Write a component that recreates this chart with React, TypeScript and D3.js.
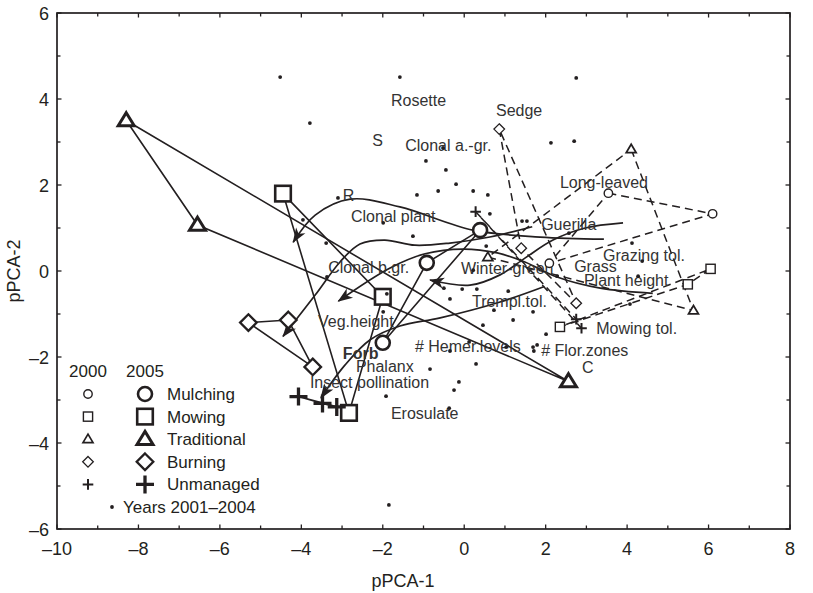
import React from 'react'
import * as d3 from 'd3'

// plot scores in the first year (2000), three plots per treatment
const mulching2000 = [[3.54, 1.81], [6.1, 1.33], [2.09, 0.18]]
const mowing2000 = [[6.05, 0.05], [5.49, -0.31], [2.35, -1.3]]
const traditional2000 = [[4.1, 2.83], [5.63, -0.92], [0.58, 0.32]]
const burning2000 = [[0.86, 3.3], [1.4, 0.53], [2.75, -0.75]]
const unmanaged2000 = [[0.28, 1.38], [2.75, -1.12], [2.88, -1.33]]

// plot scores in the last year (2005)
const mulching2005 = [[0.39, 0.95], [-0.92, 0.19], [-2.0, -1.67]]
const mowing2005 = [[-4.45, 1.8], [-2.0, -0.6], [-2.83, -3.3]]
const traditional2005 = [[-8.3, 3.5], [-6.55, 1.07], [2.56, -2.57]]
const burning2005 = [[-5.3, -1.2], [-4.32, -1.14], [-3.72, -2.23]]
const unmanaged2005 = [[-4.07, -2.92], [-3.48, -3.08], [-3.13, -3.16]]

// smoothed trajectory of the treatment centroid, 2000 -> 2005
const mulchingPath = [[3.9, 1.12], [2.97, 1.0], [2.18, 0.72], [1.49, 0.3], [0.88, -0.09], [0.14, -0.33], [-0.84, -0.21]]
const mowingPath = [[4.63, -0.52], [3.34, -0.4], [2.28, -0.14], [1.49, 0.21], [0.81, 0.42], [-0.03, 0.51], [-0.96, 0.4], [-1.82, 0.07], [-3.09, -0.7]]
const traditionalPath = [[3.43, 0.74], [1.86, 0.79], [0.22, 0.95], [-1.58, 1.49], [-2.8, 1.67], [-3.66, 1.3], [-4.2, 0.67]]
const burningPath = [[1.67, 1.03], [0.63, 0.79], [-0.35, 0.65], [-1.21, 0.6], [-1.95, 0.72], [-2.56, 0.63], [-3.05, 0.21], [-3.66, -0.56], [-4.45, -1.52]]
const unmanagedPath = [[1.97, -0.36], [0.88, -0.72], [-0.59, -1.09], [-1.58, -1.28], [-2.31, -1.6], [-2.93, -2.19], [-3.52, -2.95]]

// plots in the years 2001-2004
const years0104 = [
  [-4.52, 4.51], [-1.58, 4.51], [2.75, 4.49], [-3.79, 3.44], [2.13, 2.98], [2.7, 3.02],
  [-0.52, 2.86], [-0.94, 2.56], [-0.45, 2.35], [-0.2, 2.02], [-0.64, 1.86], [-1.16, 1.77],
  [0.22, 1.86], [0.58, 1.77], [-3.1, 1.7], [0.63, 1.33], [1.42, 1.16], [1.54, 1.16],
  [-3.96, 1.19], [-1.99, 1.12], [-3.39, 0.65], [-1.26, 0.81], [0.54, 0.58], [2.57, 0.88],
  [4.12, 0.65], [4.37, 0.23], [4.27, -0.12], [2.28, -0.12], [0.22, 0.02], [-3.37, -0.14],
  [-0.5, -0.4], [-0.05, -0.42], [0.31, -0.42], [1.08, -0.47], [-0.35, -0.65], [-1.9, -0.53],
  [-1.99, -0.95], [0.73, -0.91], [1.2, -1.14], [1.69, -0.95], [0.46, -1.26], [2.01, -1.47],
  [4.07, -0.77], [0.12, -1.65], [-0.35, -1.86], [1.03, -1.77], [1.69, -1.77], [1.79, -1.72],
  [1.71, -1.86], [-0.84, -2.28], [0.29, -2.16], [-0.13, -2.58], [-0.25, -2.77], [-1.92, -2.91],
  [-0.37, -3.19], [-1.85, -5.44]
]

// species traits (label placed at its score)
const traitNames = ['Rosette', 'S', 'Clonal a.-gr.', 'Sedge', 'R', 'Clonal plant', 'Long-leaved', 'Guerilla',
  'Grazing tol.', 'Grass', 'Plant height', 'Winter-green', 'Clonal b.gr.', 'Trempl.tol.', 'Veg.height',
  'Mowing tol.', '# Hemer.levels', '# Flor.zones', 'Forb', 'Phalanx', 'C', 'Insect pollination', 'Erosulate']
const traitX = [-1.8, -2.26, -1.45, 0.78, -2.98, -2.78, 2.35, 1.89, 3.41, 2.7, 2.94, -0.08, -3.34, 0.19, -3.59,
  3.24, -1.21, 1.89, -2.98, -2.66, 2.89, -3.79, -1.8]
const traitY = [3.84, 2.91, 2.79, 3.6, 1.63, 1.14, 1.93, 0.95, 0.23, -0.02, -0.35, -0.07, -0.05, -0.84, -1.3,
  -1.47, -1.88, -1.98, -2.05, -2.35, -2.37, -2.72, -3.44]

const treatments = ['Mulching', 'Mowing', 'Traditional', 'Burning', 'Unmanaged']
const shapes = ['circle', 'square', 'triangle', 'diamond', 'plus']

const ink = '#231f20'
const font = 'Liberation Sans, Arial, sans-serif'

function Symbol({ shape, cx, cy, big }) {
  let sw = big ? 2.6 : 1.4
  if (shape == 'circle') {
    return <circle cx={cx} cy={cy} r={big ? 7 : 4.2} fill="white" stroke={ink} strokeWidth={sw} />
  }
  if (shape == 'square') {
    let h = big ? 7.8 : 4.6
    return <rect x={cx - h} y={cy - h} width={2 * h} height={2 * h} fill="white" stroke={ink} strokeWidth={sw} />
  }
  if (shape == 'triangle') {
    let w = big ? 8 : 5, t = big ? 13 : 8.5
    let d = `M${cx},${cy - t * 0.6}L${cx + w},${cy + t * 0.4}L${cx - w},${cy + t * 0.4}Z`
    return <path d={d} fill="white" stroke={ink} strokeWidth={big ? 3 : 1.7} strokeLinejoin="miter" />
  }
  if (shape == 'diamond') {
    let h = big ? 8.3 : 5.3
    let d = `M${cx},${cy - h}L${cx + h},${cy}L${cx},${cy + h}L${cx - h},${cy}Z`
    return <path d={d} fill="white" stroke={ink} strokeWidth={big ? 2.3 : 1.3} />
  }
  let h = big ? 9 : 5.3
  let d = `M${cx - h},${cy}L${cx + h},${cy}M${cx},${cy - h}L${cx},${cy + h}`
  return <path d={d} fill="none" stroke={ink} strokeWidth={big ? 3.3 : 2} />
}

export default function App() {
  const width = 813, height = 593
  const margin = { top: 13, right: 23, bottom: 64, left: 57 }

  const x = d3.scaleLinear().domain([-10, 8]).range([margin.left, width - margin.right])
  const y = d3.scaleLinear().domain([-6, 6]).range([height - margin.bottom, margin.top])

  const first = [mulching2000, mowing2000, traditional2000, burning2000, unmanaged2000]
  const last = [mulching2005, mowing2005, traditional2005, burning2005, unmanaged2005]
  const paths = [mulchingPath, mowingPath, traditionalPath, burningPath, unmanagedPath]

  const polygon = d3.line().x(d => x(d[0])).y(d => y(d[1])).curve(d3.curveLinearClosed)
  const trajectory = d3.line().x(d => x(d[0])).y(d => y(d[1])).curve(d3.curveCatmullRom.alpha(0.5))

  const fmt = v => (v < 0 ? '\u2013' + Math.abs(v) : String(v))
  const x0 = x.range()[0], x1 = x.range()[1], y0 = y.range()[0], y1 = y.range()[1]
  const xTicks = d3.range(-10, 9, 1)
  const yTicks = d3.range(-6, 7, 1)

  // legend layout
  const lgSmall = 88, lgBig = 145, lgText = 167, lgTop = 394, lgStep = 22.6

  return (
    <svg width={width} height={height} style={{ position: 'absolute', left: 0, top: 0, background: 'white' }}
      fontFamily={font}>
      <defs>
        <marker id="arrow" viewBox="-15 -7 17 14" refX="0" refY="0" markerWidth="17" markerHeight="14"
          markerUnits="userSpaceOnUse" orient="auto">
          <path d="M1,0L-14,-5.5L-10,0L-14,5.5Z" fill={ink} />
        </marker>
      </defs>

      {/* dashed polygons for 2000 */}
      {first.map((pts, i) => (
        <path key={'d' + i} d={polygon(pts)} fill="none" stroke={ink} strokeWidth={1.5} strokeDasharray="8,5" />
      ))}
      {/* solid polygons for 2005 */}
      {last.map((pts, i) => (
        <path key={'s' + i} d={polygon(pts)} fill="none" stroke={ink} strokeWidth={1.6} />
      ))}
      {/* centroid trajectories */}
      {paths.map((pts, i) => (
        <path key={'t' + i} d={trajectory(pts)} fill="none" stroke={ink} strokeWidth={1.7} markerEnd="url(#arrow)" />
      ))}

      {/* trait labels */}
      {traitNames.map((t, i) => (
        <text key={t} x={x(traitX[i])} y={y(traitY[i])} fontSize={16} fill="#333"
          fontWeight={t == 'Forb' ? 'bold' : 'normal'}>{t}</text>
      ))}

      {/* plots */}
      {first.map((pts, i) => pts.map((p, j) => (
        <Symbol key={'a' + i + j} shape={shapes[i]} cx={x(p[0])} cy={y(p[1])} big={false} />
      )))}
      {last.map((pts, i) => pts.map((p, j) => (
        <Symbol key={'b' + i + j} shape={shapes[i]} cx={x(p[0])} cy={y(p[1])} big={true} />
      )))}
      {years0104.map((p, i) => (
        <circle key={'y' + i} cx={x(p[0])} cy={y(p[1])} r={1.9} fill={ink} />
      ))}

      {/* frame and ticks */}
      <rect x={x0} y={y1} width={x1 - x0} height={y0 - y1} fill="none" stroke={ink} strokeWidth={1.7} />
      {xTicks.map(v => {
        let len = v % 2 == 0 ? 4.5 : 3.5
        return (
          <g key={'xt' + v}>
            <line x1={x(v)} x2={x(v)} y1={y0} y2={y0 - len} stroke={ink} strokeWidth={1.3} />
            <line x1={x(v)} x2={x(v)} y1={y1} y2={y1 + len} stroke={ink} strokeWidth={1.3} />
          </g>
        )
      })}
      {yTicks.map(v => {
        let len = v % 2 == 0 ? 4.5 : 3.5
        return (
          <g key={'yt' + v}>
            <line x1={x0} x2={x0 + len} y1={y(v)} y2={y(v)} stroke={ink} strokeWidth={1.3} />
            <line x1={x1} x2={x1 - len} y1={y(v)} y2={y(v)} stroke={ink} strokeWidth={1.3} />
          </g>
        )
      })}
      {xTicks.filter(v => v % 2 == 0).map(v => (
        <text key={'xl' + v} x={x(v)} y={555} fontSize={18} textAnchor="middle" fill={ink}>{fmt(v)}</text>
      ))}
      {yTicks.filter(v => v % 2 == 0).map(v => (
        <text key={'yl' + v} x={49} y={y(v) + 6.5} fontSize={18} textAnchor="end" fill={ink}>{fmt(v)}</text>
      ))}
      <text x={403} y={587} fontSize={18} textAnchor="middle" fill={ink}>pPCA-1</text>
      <text transform={`translate(20,${(y0 + y1) / 2}) rotate(-90)`} fontSize={18} textAnchor="middle" fill={ink}>pPCA-2</text>

      {/* legend */}
      <text x={lgSmall} y={lgTop - lgStep + 6} fontSize={17} textAnchor="middle" fill={ink}>2000</text>
      <text x={lgBig} y={lgTop - lgStep + 6} fontSize={17} textAnchor="middle" fill={ink}>2005</text>
      {treatments.map((t, i) => (
        <g key={'lg' + t}>
          <Symbol shape={shapes[i]} cx={lgSmall} cy={lgTop + i * lgStep} big={false} />
          <Symbol shape={shapes[i]} cx={lgBig} cy={lgTop + i * lgStep} big={true} />
          <text x={lgText} y={lgTop + i * lgStep + 6} fontSize={17} fill={ink}>{t}</text>
        </g>
      ))}
      <circle cx={112} cy={lgTop + 5 * lgStep} r={1.9} fill={ink} />
      <text x={123} y={lgTop + 5 * lgStep + 6} fontSize={17} fill={ink}>Years 2001–2004</text>
    </svg>
  )
}
